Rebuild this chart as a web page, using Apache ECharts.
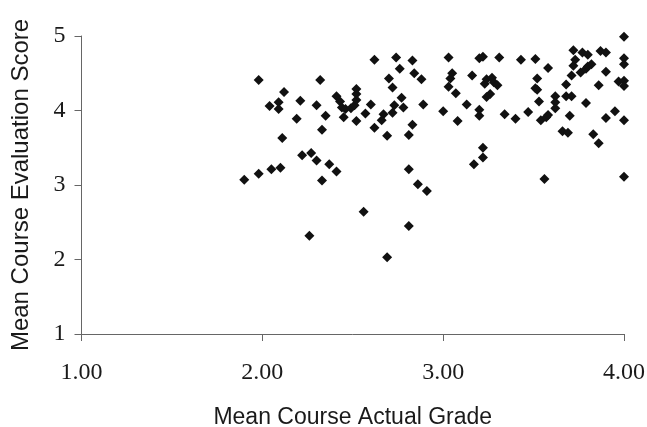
<!DOCTYPE html>
<html>
<head>
<meta charset="utf-8">
<script src="https://cdn.jsdelivr.net/npm/echarts@6/dist/echarts.min.js"></script>
<style>
html,body{margin:0;padding:0;background:#fff;}
#c{width:647px;height:427px;}
</style>
</head>
<body>
<div id="c"></div>
<script>
var xTicks = [1, 2, 3, 4];
var yTicks = [1, 2, 3, 4, 5];
var xTitle = 'Mean Course Actual Grade';
var yTitle = 'Mean Course Evaluation Score';
var actualGrade = [1.90,1.98,1.98,2.04,2.05,2.10,2.09,2.09,2.12,2.11,2.19,2.21,2.22,2.27,2.26,2.30,2.30,2.32,2.33,2.33,2.35,2.37,2.41,2.41,2.43,2.44,
2.45,2.46,2.49,2.51,2.52,2.52,2.52,2.52,2.56,2.57,2.60,2.62,2.62,2.67,2.66,2.69,2.69,2.70,2.72,2.73,2.72,2.74,2.76,2.77,2.78,2.81,2.81,2.81,2.83,2.83,2.84,2.86,2.88,2.89,2.91,
3.00,3.03,3.03,3.04,3.05,3.07,3.08,3.13,3.16,3.17,3.20,3.22,3.20,3.20,3.22,3.22,3.23,3.24,3.27,3.28,3.30,3.26,3.24,3.31,
3.34,3.40,3.43,3.47,3.51,3.52,3.51,3.52,3.53,3.54,3.56,3.57,3.58,3.58,3.62,3.62,3.62,3.66,3.68,3.68,3.69,3.70,3.71,3.71,3.72,3.72,3.73,3.76,3.77,3.79,3.79,3.80,3.80,3.82,3.83,3.86,3.86,3.87,3.90,3.90,3.90,3.95,3.97,4.00,4.00,4.00,4.00,4.00,4.00,4.00];
var evalScore = [3.07,3.15,4.41,4.06,3.21,3.23,4.11,4.02,4.25,3.63,3.89,4.13,3.40,3.43,2.32,4.07,3.33,4.41,3.74,3.06,3.93,3.28,3.18,4.19,4.12,4.04,
3.91,4.02,4.03,4.07,4.14,4.22,4.29,3.86,2.64,3.96,4.08,4.68,3.77,3.95,3.87,2.03,3.66,4.43,4.31,4.07,3.97,4.71,4.56,4.17,4.04,3.67,3.21,2.45,3.81,4.67,4.50,3.01,4.42,4.08,2.92,
3.99,4.32,4.71,4.43,4.50,4.23,3.86,4.08,4.47,3.28,4.70,4.72,4.01,3.93,3.50,3.37,4.36,4.42,4.44,4.38,4.34,4.22,4.18,4.71,
3.95,3.89,4.68,3.98,4.69,4.43,4.30,4.28,4.12,3.87,3.08,3.91,3.94,4.57,4.19,4.11,4.03,3.72,4.19,4.35,3.70,3.93,4.19,4.47,4.81,4.60,4.68,4.51,4.78,4.10,4.56,4.59,4.75,4.62,3.68,3.56,4.34,4.80,4.78,4.52,3.90,3.99,4.39,4.40,4.99,4.70,4.62,4.33,3.87,3.11];

var pts = actualGrade.map(function(x, i){ return [x, evalScore[i]]; });

var chart = echarts.init(document.getElementById('c'));
var axisLineStyle = {color:'#666', width:1};
chart.setOption({
  animation:false,
  backgroundColor:'#fff',
  grid:{left:81.5, right:23, top:36, bottom:93, containLabel:false, outerBoundsMode:'none'},
  xAxis:{
    type:'value', min:xTicks[0], max:xTicks[xTicks.length-1], interval:1,
    name:xTitle, nameLocation:'middle', nameGap:72,
    nameTextStyle:{fontFamily:'Liberation Sans', fontSize:23, color:'#1a1a1a'},
    axisLine:{show:true, lineStyle:axisLineStyle},
    axisTick:{show:true, length:7, lineStyle:axisLineStyle},
    splitLine:{show:false},
    axisLabel:{fontFamily:'Liberation Serif', fontSize:24, color:'#1a1a1a', margin:27,
      formatter:function(v){return v.toFixed(2);}}
  },
  yAxis:{
    type:'value', min:yTicks[0], max:yTicks[yTicks.length-1], interval:1,
    name:yTitle, nameLocation:'middle', nameGap:48, nameRotate:90,
    nameTextStyle:{fontFamily:'Liberation Sans', fontSize:24, color:'#1a1a1a'},
    axisLine:{show:true, lineStyle:axisLineStyle},
    axisTick:{show:true, length:7, lineStyle:axisLineStyle},
    splitLine:{show:false},
    axisLabel:{fontFamily:'Liberation Serif', fontSize:24, color:'#1a1a1a', margin:16}
  },
  series:[{
    type:'scatter', data:pts, symbol:'diamond', symbolSize:10,
    itemStyle:{color:'#111', opacity:1}
  }]
});
</script>
</body>
</html>
